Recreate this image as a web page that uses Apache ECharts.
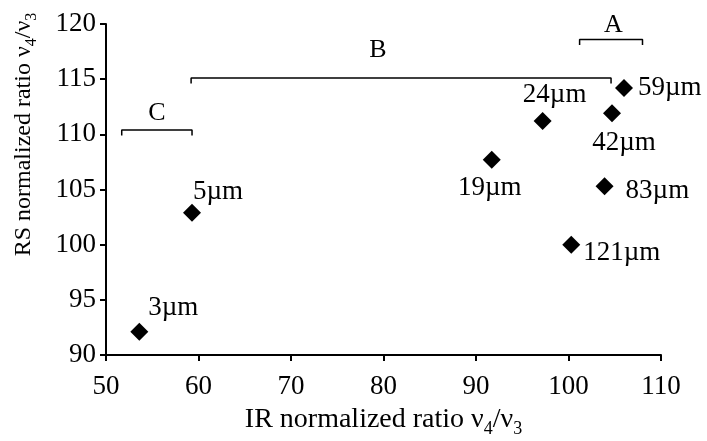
<!DOCTYPE html>
<html><head><meta charset="utf-8">
<script src="https://cdn.jsdelivr.net/npm/echarts@6/dist/echarts.min.js"></script>
<style>html,body{margin:0;padding:0;background:#fff}#c{width:707px;height:441px}</style>
</head><body><div id="c"></div>
<script>
// ---- data ----
const sampleNames = ['3µm','5µm','19µm','24µm','42µm','59µm','83µm','121µm'];
const irRatio = [53.6, 59.3, 91.7, 97.2, 104.7, 106.0, 103.9, 100.3];
const rsRatio = [92.1, 102.9, 107.7, 111.2, 111.9, 114.2, 105.3, 100.0];
const xTicks = [50, 60, 70, 80, 90, 100, 110];
const yTicks = [90, 95, 100, 105, 110, 115, 120];
const groupNames = ['A', 'B', 'C'];
const groupStart = [101.2, 59.2, 51.7];
const groupEnd = [108.0, 104.6, 59.3];
const groupLevel = [118.6, 115.1, 110.4];
const groupLabelX = [104.85, 79.4, 55.5];
const groupLabelY = [119.9, 117.65, 111.95];

// ---- styling ----
const FONT = '"Liberation Serif", "Times New Roman", serif';
const bracketDrop = 0.5;
const labelPlacement = {
  '3µm':  {position: 'inside', offset: [34, -24]},
  '5µm':  {position: 'inside', offset: [26, -21]},
  '19µm': {position: 'inside', offset: [-2, 28]},
  '24µm': {position: 'inside', offset: [12, -26]},
  '42µm': {position: 'inside', offset: [12, 30]},
  '59µm': {position: 'right', distance: 5, offset: [0, 0], align: 'left'},
  '83µm': {position: 'right', distance: 12, offset: [0, 5], align: 'left'},
  '121µm':{position: 'right', distance: 3, offset: [0, 8], align: 'left'}
};

const points = sampleNames.map((n, i) => ({
  name: n,
  value: [irRatio[i], rsRatio[i]],
  label: Object.assign({show: true, formatter: n}, labelPlacement[n])
}));

const bracketSeries = groupNames.map((g, i) => ({
  type: 'line',
  silent: true,
  symbol: 'none',
  clip: false,
  lineStyle: {color: '#000', width: 1.5, opacity: 1},
  data: [
    [groupStart[i], groupLevel[i] - bracketDrop],
    [groupStart[i], groupLevel[i]],
    [groupEnd[i], groupLevel[i]],
    [groupEnd[i], groupLevel[i] - bracketDrop]
  ],
  z: 3
}));

const groupLabelSeries = {
  type: 'scatter',
  silent: true,
  clip: false,
  symbolSize: 0,
  itemStyle: {opacity: 1},
  data: groupNames.map((g, i) => ({name: g, value: [groupLabelX[i], groupLabelY[i]]})),
  label: {
    show: true, position: 'inside', formatter: p => p.name,
    color: '#000', fontFamily: FONT, fontSize: 26
  }
};

const rich = {
  t: {fontFamily: FONT, fontSize: 28, color: '#000', lineHeight: 36},
  s: {fontFamily: FONT, fontSize: 18, color: '#000', lineHeight: 14, verticalAlign: 'bottom'}
};
const richY = {
  t: {fontFamily: FONT, fontSize: 24, color: '#000', lineHeight: 32},
  s: {fontFamily: FONT, fontSize: 16, color: '#000', lineHeight: 13, verticalAlign: 'bottom'}
};

const chart = echarts.init(document.getElementById('c'), null, {renderer: 'canvas'});
chart.setOption({
  backgroundColor: '#fff',
  animation: false,
  grid: {left: 106, right: 46, top: 24, bottom: 86, containLabel: false, outerBoundsMode: 'none'},
  xAxis: {
    type: 'value',
    min: xTicks[0], max: xTicks[xTicks.length - 1], interval: xTicks[1] - xTicks[0],
    name: '{t|IR normalized ratio ν}{s|4}{t|/ν}{s|3}',
    nameLocation: 'middle', nameGap: 47,
    nameTextStyle: {rich: rich},
    axisLine: {show: true, onZero: false, lineStyle: {color: '#000', width: 2}},
    axisTick: {show: true, length: 6, inside: false, lineStyle: {color: '#000', width: 2}},
    axisLabel: {color: '#000', fontFamily: FONT, fontSize: 27, margin: 18},
    splitLine: {show: false}
  },
  yAxis: {
    type: 'value',
    min: yTicks[0], max: yTicks[yTicks.length - 1], interval: yTicks[1] - yTicks[0],
    name: '{t|RS normalized ratio ν}{s|4}{t|/ν}{s|3}',
    nameLocation: 'middle', nameGap: 66, nameRotate: 90,
    nameTextStyle: {rich: richY, padding: [0, 0, 0, 110]},
    axisLine: {show: true, onZero: false, lineStyle: {color: '#000', width: 2}},
    axisTick: {show: true, length: 6, inside: false, lineStyle: {color: '#000', width: 2}},
    axisLabel: {color: '#000', fontFamily: FONT, fontSize: 27, margin: 10},
    splitLine: {show: false}
  },
  series: [
    {
      type: 'scatter',
      symbol: 'diamond',
      symbolSize: 18,
      itemStyle: {color: '#000', opacity: 1},
      label: {color: '#000', fontFamily: FONT, fontSize: 27, align: 'center', verticalAlign: 'middle'},
      data: points,
      z: 4
    },
    ...bracketSeries,
    groupLabelSeries
  ]
});
</script></body></html>
